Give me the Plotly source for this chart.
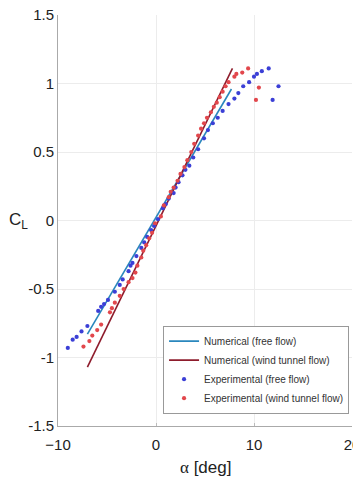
import plotly.graph_objects as go

# Numerical (lines)
num_free_alpha = [-7.0, 7.7]
num_free_cl = [-0.83, 0.96]
num_wt_alpha = [-7.0, 7.8]
num_wt_cl = [-1.07, 1.11]

# Experimental (free flow)
exp_free_alpha = [-9.0, -8.5, -8.1, -7.6, -7.0, -5.9, -5.6, -5.3, -4.9, -4.2, -3.7, -3.4, -2.8, -2.6,
                  -2.4, -2.0, -1.5, -1.2, -0.9, -0.5, -0.2, 0.2, 0.7, 1.0, 1.3, 1.8, 2.0, 2.3, 2.7,
                  3.0, 3.4, 3.8, 4.3, 4.9, 5.3, 5.8, 6.3, 6.8, 7.4, 8.0, 8.4, 8.9, 9.5, 10.0, 10.3,
                  10.8, 11.5, 12.5, 11.9]
exp_free_cl = [-0.93, -0.87, -0.85, -0.81, -0.77, -0.66, -0.63, -0.61, -0.58, -0.52, -0.47, -0.43, -0.37, -0.33,
               -0.31, -0.26, -0.20, -0.16, -0.12, -0.07, -0.04, 0.01, 0.09, 0.12, 0.16, 0.20, 0.24, 0.28, 0.33,
               0.37, 0.40, 0.46, 0.52, 0.60, 0.66, 0.71, 0.75, 0.80, 0.85, 0.89, 0.93, 0.98, 1.01, 1.05, 1.07,
               1.09, 1.11, 0.98, 0.88]

# Experimental (wind tunnel flow)
exp_wt_alpha = [-7.4, -6.8, -6.5, -6.0, -5.6, -4.7, -4.5, -4.2, -3.7, -3.3, -2.8, -2.4, -2.1, -1.9, -1.5,
                -1.3, -1.0, -0.7, -0.4, -0.1, 0.5, 0.8, 1.3, 1.5, 1.8, 2.2, 2.5, 2.9, 3.2, 3.6, 3.9, 4.3,
                4.6, 4.9, 5.2, 5.6, 5.9, 6.2, 6.5, 6.8, 7.1, 7.4, 8.0, 8.2, 8.8, 9.4, 10.5, 10.2]
exp_wt_cl = [-0.92, -0.88, -0.84, -0.80, -0.76, -0.67, -0.64, -0.60, -0.55, -0.50, -0.45, -0.42, -0.38, -0.33, -0.27,
             -0.22, -0.18, -0.13, -0.09, -0.02, 0.03, 0.11, 0.17, 0.21, 0.24, 0.29, 0.34, 0.39, 0.44, 0.50, 0.56, 0.62,
             0.67, 0.71, 0.75, 0.79, 0.83, 0.86, 0.90, 0.94, 0.98, 1.01, 1.05, 1.07, 1.08, 1.11, 0.97, 0.88]

x_ticks = [-10, 0, 10, 20]
y_ticks = [-1.5, -1, -0.5, 0, 0.5, 1, 1.5]
y_ticktext = ["-1.5", "-1", "-0.5", "0", "0.5", "1", "1.5"]

fig = go.Figure()
fig.add_trace(go.Scatter(x=num_free_alpha, y=num_free_cl, mode="lines",
                         line=dict(color="#2a87bd", width=1.6), name="Numerical (free flow)"))
fig.add_trace(go.Scatter(x=num_wt_alpha, y=num_wt_cl, mode="lines",
                         line=dict(color="#8e1c2c", width=1.6), name="Numerical (wind tunnel flow)"))
fig.add_trace(go.Scatter(x=exp_free_alpha, y=exp_free_cl, mode="markers",
                         marker=dict(color="#3b3fd6", size=4.2), name="Experimental (free flow)"))
fig.add_trace(go.Scatter(x=exp_wt_alpha, y=exp_wt_cl, mode="markers",
                         marker=dict(color="#e2474c", size=4.2), name="Experimental (wind tunnel flow)"))

# the page body adds an 8px offset, so the figure is 8px smaller and margins shifted
fig.update_layout(
    width=353, height=473,
    margin=dict(l=50, r=9, t=7, b=55),
    paper_bgcolor="white", plot_bgcolor="white",
    font=dict(family="Liberation Sans, Arial, sans-serif", color="#222"),
    showlegend=True,
    legend=dict(x=0.99, y=0.03, xanchor="right", yanchor="bottom",
                bgcolor="white", bordercolor="#999", borderwidth=1,
                font=dict(size=10, color="#333"), tracegroupgap=0,
                itemwidth=30),
    xaxis=dict(range=[-10, 20], tickvals=x_ticks, ticks="inside", ticklen=3,
               tickcolor="#bbbbbb", showgrid=True, ticklabelstandoff=5,
               gridcolor="#ececec", zeroline=False, showline=True, linecolor="#aaaaaa",
               linewidth=1, mirror=False, tickfont=dict(size=15, color="#222"),
               ticklabeloverflow="allow", automargin=False),
    yaxis=dict(range=[-1.5, 1.5], tickvals=y_ticks, ticktext=y_ticktext, ticks="",
               showgrid=True, gridcolor="#ececec", zeroline=False, showline=True,
               linecolor="#aaaaaa", linewidth=1, tickfont=dict(size=15, color="#222"),
               ticklabeloverflow="allow", automargin=False),
    annotations=[
        dict(text="C<sub>L</sub>", xref="paper", yref="paper", x=-0.095, y=0.5,
             xanchor="right", yanchor="middle", showarrow=False,
             font=dict(size=17, color="#222")),
        dict(text="<span style='font-family:Liberation Serif'>α</span> [deg]",
             xref="paper", yref="paper", x=0.5, y=-0.072, xanchor="center", yanchor="top",
             showarrow=False, font=dict(size=17, color="#222")),
    ],
)
fig.write_html("out.html")
